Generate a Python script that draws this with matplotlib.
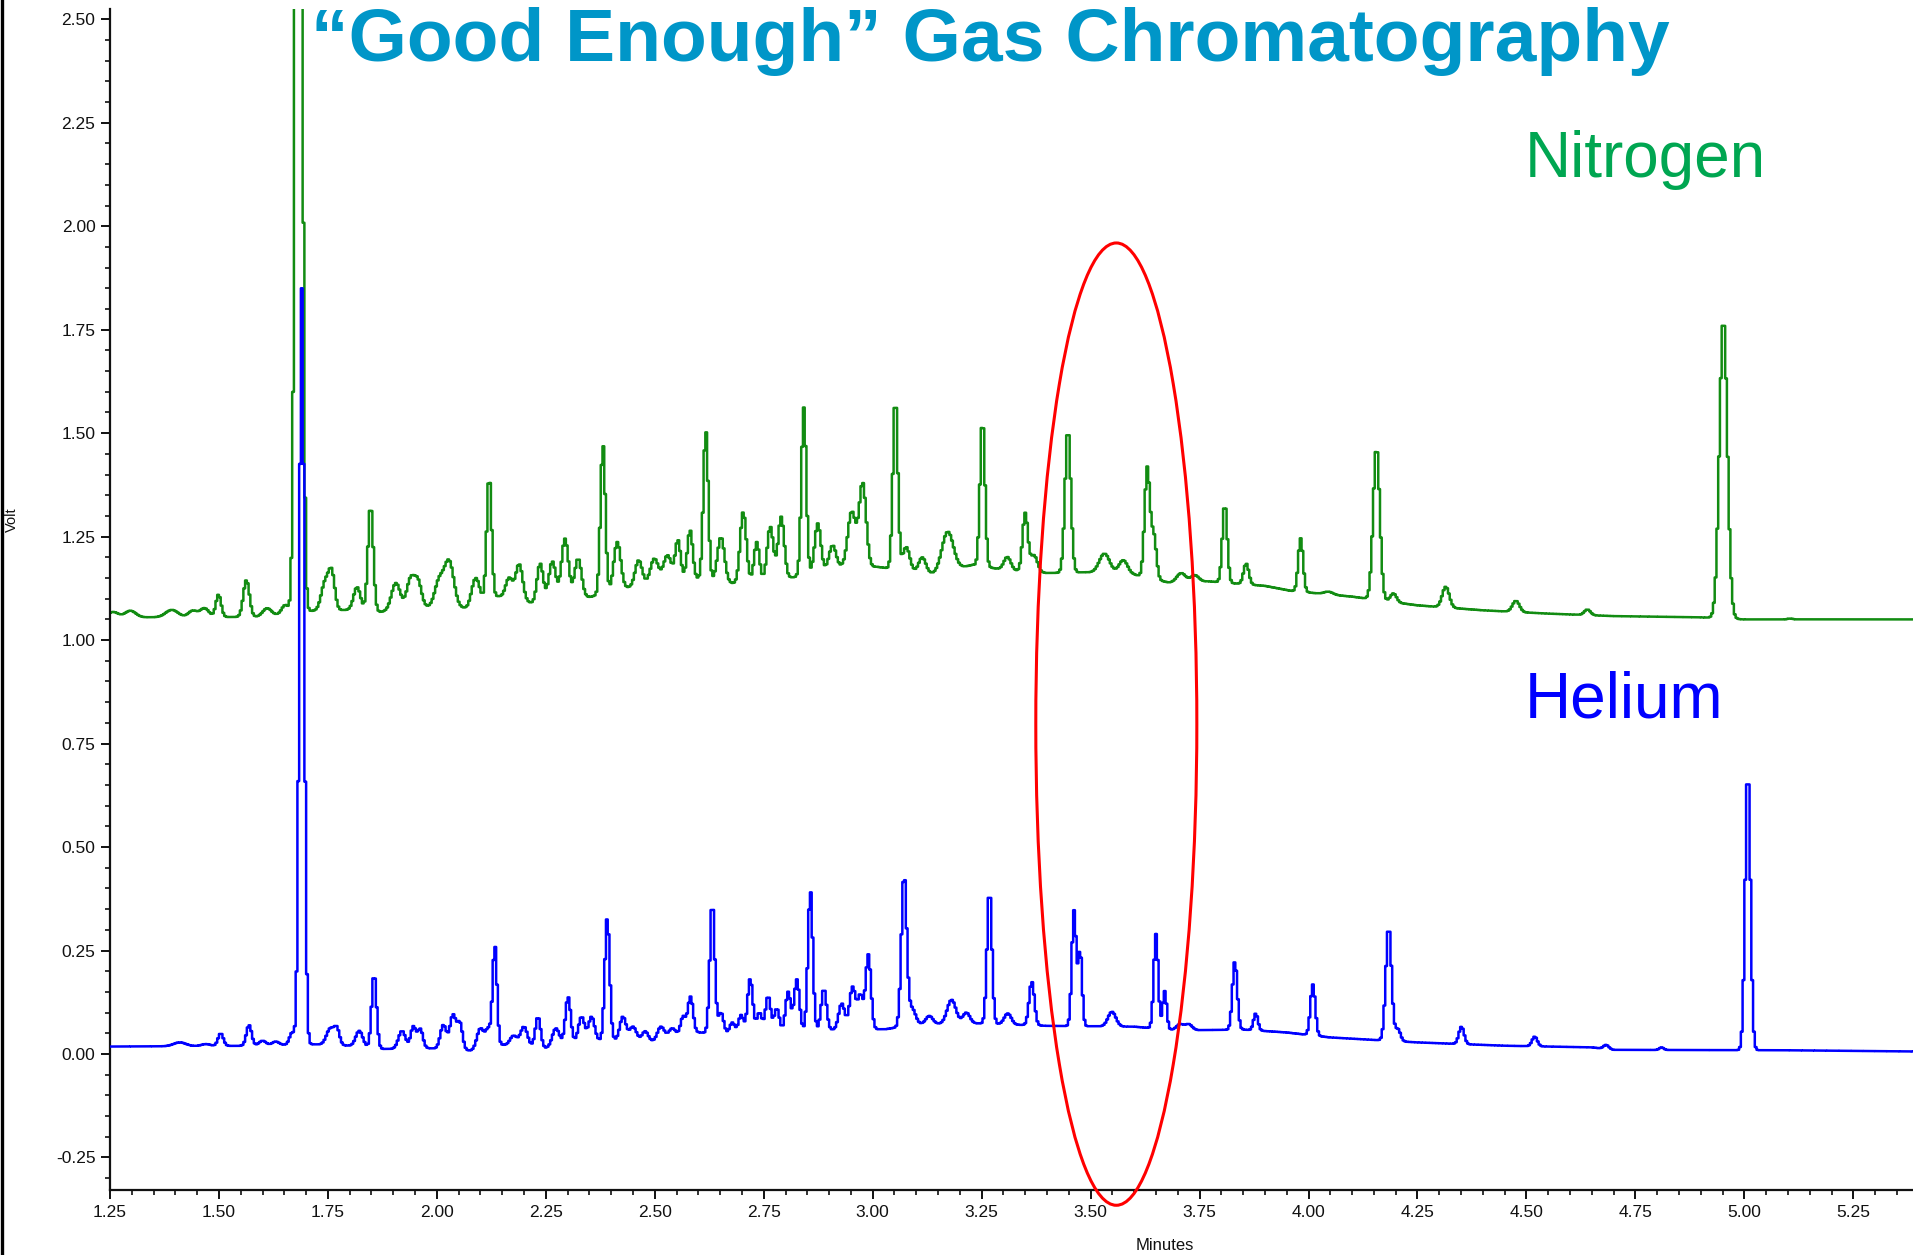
import numpy as np
import matplotlib
matplotlib.use("Agg")
import matplotlib.pyplot as plt
from matplotlib.patches import Ellipse
from matplotlib.lines import Line2D
from matplotlib.ticker import MultipleLocator, FormatStrFormatter

plt.rcParams['font.family'] = ['Liberation Sans', 'DejaVu Sans']
plt.rcParams['axes.unicode_minus'] = False

# ---------------- Nitrogen carrier gas trace ----------------
# baseline drift (minutes, volts)
n2_base_t = [1.25, 1.60, 1.70, 1.80, 1.87, 1.97, 2.07, 2.14, 2.22, 2.35, 2.44, 2.57,
             2.68, 2.82, 2.93, 3.01, 3.14, 3.23, 3.30, 3.40, 3.49, 3.60, 3.68, 3.77,
             3.90, 3.96, 4.10, 4.25, 4.40, 4.55, 4.70, 4.90, 5.00, 5.40]
n2_base_v = [1.055, 1.056, 1.070, 1.073, 1.068, 1.080, 1.077, 1.106, 1.089, 1.104, 1.127, 1.152,
             1.137, 1.152, 1.177, 1.177, 1.160, 1.182, 1.170, 1.162, 1.164, 1.158, 1.139, 1.142,
             1.131, 1.119, 1.105, 1.084, 1.072, 1.064, 1.058, 1.055, 1.050, 1.050]
# peaks: retention time, apex (V), width (min)
n2_peak_t = [1.257, 1.297, 1.392, 1.440, 1.467, 1.499, 1.563, 1.610, 1.652, 1.683,
             1.744, 1.759, 1.817, 1.848, 1.906, 1.940, 1.957, 2.005, 2.028, 2.089,
             2.120, 2.166, 2.189, 2.237, 2.265, 2.294, 2.324, 2.381, 2.414, 2.463,
             2.499, 2.529, 2.553, 2.581, 2.617, 2.652, 2.703, 2.734, 2.765, 2.790,
             2.842, 2.874, 2.908, 2.952, 2.977, 3.052, 3.077, 3.114, 3.172, 3.252,
             3.309, 3.350, 3.370, 3.448, 3.532, 3.575, 3.630, 3.645, 3.708, 3.739,
             3.808, 3.857, 3.982, 4.046, 4.156, 4.195, 4.315, 4.476, 4.640, 4.952,
             5.105]
n2_peak_v = [1.068, 1.071, 1.073, 1.071, 1.077, 1.110, 1.145, 1.077, 1.085, 5.000,
             1.140, 1.155, 1.128, 1.326, 1.138, 1.148, 1.137, 1.140, 1.190, 1.150,
             1.398, 1.150, 1.183, 1.185, 1.190, 1.245, 1.197, 1.474, 1.237, 1.193,
             1.197, 1.205, 1.241, 1.266, 1.508, 1.249, 1.310, 1.237, 1.274, 1.298,
             1.562, 1.282, 1.229, 1.310, 1.379, 1.587, 1.225, 1.200, 1.262, 1.535,
             1.201, 1.306, 1.205, 1.511, 1.209, 1.193, 1.415, 1.250, 1.162, 1.157,
             1.330, 1.185, 1.246, 1.117, 1.467, 1.113, 1.129, 1.095, 1.074, 1.777,
             1.052]
n2_peak_w = [0.012, 0.012, 0.014, 0.010, 0.010, 0.006, 0.007, 0.010, 0.008, 0.0065,
             0.009, 0.007, 0.008, 0.006, 0.010, 0.009, 0.008, 0.010, 0.011, 0.009,
             0.0055, 0.008, 0.008, 0.007, 0.008, 0.008, 0.008, 0.0055, 0.008, 0.008,
             0.009, 0.009, 0.006, 0.006, 0.0055, 0.008, 0.007, 0.006, 0.007, 0.007,
             0.0055, 0.007, 0.008, 0.009, 0.008, 0.0055, 0.008, 0.008, 0.013, 0.0055,
             0.008, 0.006, 0.008, 0.0065, 0.012, 0.010, 0.006, 0.006, 0.010, 0.009,
             0.0055, 0.006, 0.0055, 0.010, 0.0075, 0.007, 0.008, 0.008, 0.007, 0.009,
             0.006]

# ---------------- Helium carrier gas trace ----------------
he_base_t = [1.25, 1.60, 1.70, 1.80, 1.88, 1.98, 2.08, 2.15, 2.25, 2.31, 2.40, 2.50,
             2.60, 2.70, 2.88, 3.03, 3.10, 3.24, 3.40, 3.60, 3.70, 3.85, 3.95, 4.05,
             4.25, 4.45, 4.65, 4.70, 5.10, 5.40]
he_base_v = [0.018, 0.020, 0.024, 0.020, 0.012, 0.014, 0.008, 0.022, 0.014, 0.028, 0.034, 0.030,
             0.052, 0.046, 0.058, 0.060, 0.072, 0.074, 0.068, 0.066, 0.057, 0.059, 0.052, 0.040,
             0.028, 0.020, 0.016, 0.010, 0.009, 0.006]
he_peak_t = [1.410, 1.470, 1.504, 1.569, 1.600, 1.630, 1.668, 1.690, 1.756, 1.771,
             1.822, 1.856, 1.920, 1.946, 1.962, 2.015, 2.037, 2.053, 2.100, 2.118,
             2.133, 2.176, 2.200, 2.232, 2.273, 2.301, 2.332, 2.355, 2.391, 2.427,
             2.450, 2.478, 2.514, 2.540, 2.565, 2.582, 2.632, 2.652, 2.678, 2.698,
             2.719, 2.740, 2.760, 2.780, 2.806, 2.826, 2.857, 2.888, 2.929, 2.954,
             2.972, 2.990, 3.072, 3.090, 3.130, 3.181, 3.215, 3.268, 3.310, 3.365,
             3.462, 3.476, 3.549, 3.650, 3.670, 3.705, 3.725, 3.831, 3.879, 4.010,
             4.184, 4.205, 4.351, 4.519, 4.683, 4.810, 5.008]
he_peak_v = [0.028, 0.024, 0.050, 0.070, 0.032, 0.030, 0.052, 1.850, 0.062, 0.056,
             0.056, 0.194, 0.056, 0.066, 0.060, 0.070, 0.094, 0.072, 0.062, 0.058,
             0.262, 0.044, 0.066, 0.090, 0.062, 0.138, 0.090, 0.090, 0.330, 0.090,
             0.066, 0.055, 0.066, 0.062, 0.090, 0.138, 0.368, 0.100, 0.076, 0.094,
             0.182, 0.100, 0.140, 0.110, 0.150, 0.180, 0.396, 0.158, 0.122, 0.162,
             0.140, 0.240, 0.434, 0.110, 0.092, 0.131, 0.100, 0.398, 0.098, 0.175,
             0.346, 0.248, 0.102, 0.290, 0.152, 0.072, 0.072, 0.224, 0.098, 0.168,
             0.308, 0.060, 0.066, 0.042, 0.022, 0.016, 0.688]
he_peak_w = [0.014, 0.010, 0.006, 0.006, 0.008, 0.008, 0.006, 0.0055, 0.009, 0.006,
             0.008, 0.0055, 0.008, 0.006, 0.006, 0.007, 0.007, 0.006, 0.008, 0.006,
             0.005, 0.008, 0.008, 0.006, 0.008, 0.006, 0.007, 0.007, 0.0055, 0.007,
             0.008, 0.007, 0.008, 0.008, 0.006, 0.006, 0.0055, 0.006, 0.006, 0.006,
             0.006, 0.006, 0.006, 0.006, 0.006, 0.006, 0.0055, 0.006, 0.007, 0.007,
             0.006, 0.006, 0.006, 0.008, 0.008, 0.010, 0.008, 0.0055, 0.008, 0.006,
             0.005, 0.0045, 0.009, 0.005, 0.0045, 0.008, 0.008, 0.0055, 0.005, 0.0055,
             0.0065, 0.006, 0.006, 0.006, 0.006, 0.005, 0.006]

x_ticks = [1.25, 1.50, 1.75, 2.00, 2.25, 2.50, 2.75, 3.00, 3.25, 3.50, 3.75, 4.00,
           4.25, 4.50, 4.75, 5.00, 5.25]
y_ticks = [-0.25, 0.00, 0.25, 0.50, 0.75, 1.00, 1.25, 1.50, 1.75, 2.00, 2.25, 2.50]

DT = 0.004  # detector sampling interval, minutes


def detector_trace(t, base_t, base_v, pk_t, pk_v, pk_w):
    base = np.interp(t, base_t, base_v)
    y = base.copy()
    for t0, v0, w in zip(pk_t, pk_v, pk_w):
        amp = v0 - np.interp(t0, base_t, base_v)
        y += amp * np.exp(-0.5 * ((t - t0) / w) ** 2)
    return y


t = np.arange(1.25, 5.40, DT)
y_n2 = detector_trace(t, n2_base_t, n2_base_v, n2_peak_t, n2_peak_v, n2_peak_w)
y_he = detector_trace(t, he_base_t, he_base_v, he_peak_t, he_peak_v, he_peak_w)

W, H = 1913, 1255
fig = plt.figure(figsize=(W / 100, H / 100), dpi=100)
ax = fig.add_axes([110 / W, 1 - 1190 / H, 1 - 110 / W, (1190 - 8.5) / H])

ax.plot(t, y_n2, color='#128c12', lw=1.8, drawstyle='steps-mid', zorder=2)
ax.plot(t, y_he, color='#0000ff', lw=1.8, drawstyle='steps-mid', zorder=3)

ax.set_xlim(1.25, 5.387)
ax.set_ylim(-0.3286, 2.526)

ax.set_xticks(x_ticks)
ax.set_yticks(y_ticks)
ax.xaxis.set_minor_locator(MultipleLocator(0.05))
ax.yaxis.set_minor_locator(MultipleLocator(0.05))
ax.xaxis.set_major_formatter(FormatStrFormatter('%.2f'))
ax.yaxis.set_major_formatter(FormatStrFormatter('%.2f'))
ax.tick_params(which='major', direction='out', length=6.5, width=1.4,
               labelsize=12.5, pad=4, colors='#111111')
ax.tick_params(which='minor', direction='out', length=3.8, width=1.2, colors='#111111')

for side in ('top', 'right'):
    ax.spines[side].set_visible(False)
for side in ('left', 'bottom'):
    ax.spines[side].set_linewidth(1.6)
    ax.spines[side].set_color('#111111')

# region of interest
ax.add_patch(Ellipse((3.559, 0.797), width=0.3695, height=2.325, fill=False,
                     edgecolor='#ff0000', lw=2.2, clip_on=False, zorder=5))

fig.text(12 / W, 1 - 520 / H, 'Volt', rotation=90, ha='center', va='center',
         fontsize=10.5, color='#111111')
fig.text(1165 / W, 1 - 1246 / H, 'Minutes', ha='center', va='center',
         fontsize=12, color='#111111')

fig.text(990 / W, 1 - 61 / H, '\u201cGood Enough\u201d Gas Chromatography',
         ha='center', va='baseline', fontsize=54, fontweight='bold', color='#0096c8')
fig.text(1525 / W, 1 - 177 / H, 'Nitrogen', ha='left', va='baseline',
         fontsize=46, color='#00a651')
fig.text(1525 / W, 1 - 717 / H, 'Helium', ha='left', va='baseline',
         fontsize=46, color='#0000ff')

# frame edge on the left
fig.add_artist(Line2D([1.5 / W, 1.5 / W], [0, 1], color='black', lw=2.4,
                      transform=fig.transFigure))

fig.savefig('out.png', dpi=100)
